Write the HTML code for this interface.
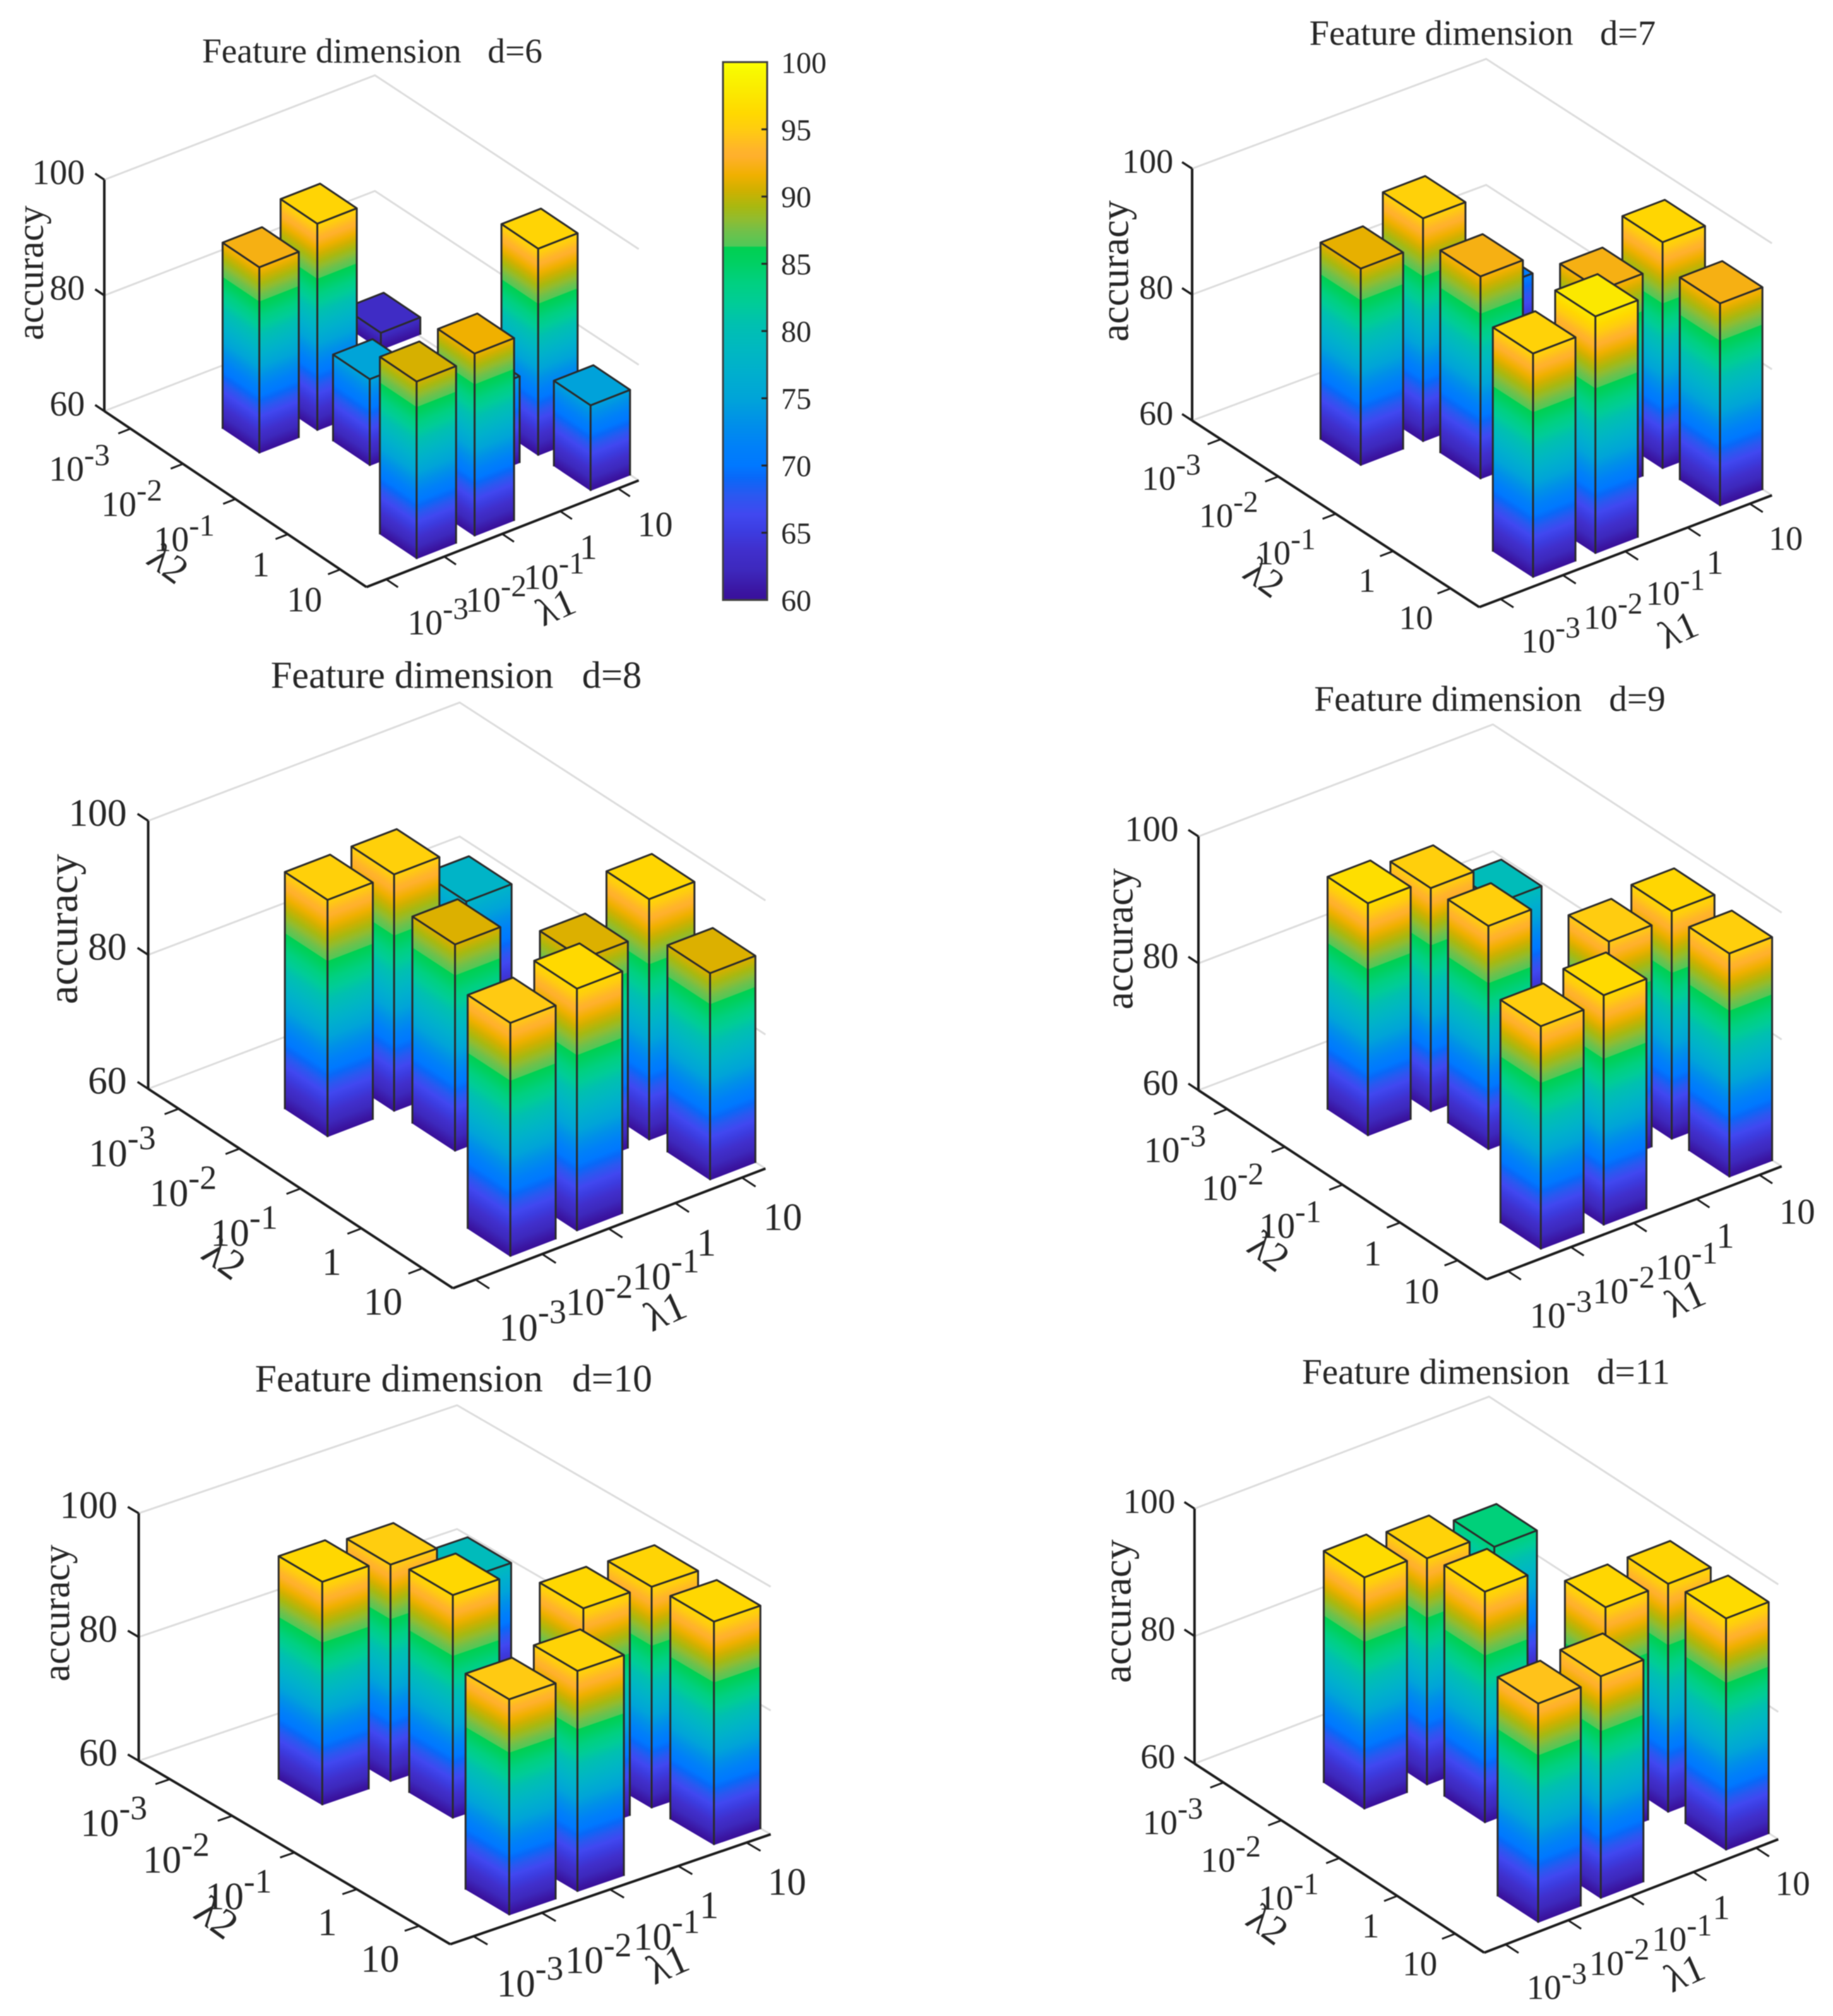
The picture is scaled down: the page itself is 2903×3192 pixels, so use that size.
<!DOCTYPE html>
<html lang="en">
<head>
<meta charset="utf-8">
<title>Accuracy versus lambda1 and lambda2 for feature dimensions 6 to 11</title>
<style>
  html, body { margin: 0; padding: 0; background: #fff; }
  #figure { display: block; width: 2903px; height: 3192px; filter: blur(0.9px); }
  text { font-family: "Liberation Serif", "Times New Roman", serif; fill: #262626; white-space: pre; }
</style>
</head>
<body>
<svg id="figure" width="2903" height="3192" viewBox="0 0 2903 3192">
  <rect x="0" y="0" width="2903" height="3192" fill="#ffffff"/>
  <defs id="gradient-defs"></defs>

  <g id="panel-d6">
    <text x="320" y="99" font-size="55.4">Feature dimension   d=6</text>
    <text text-anchor="middle" font-size="60" transform="translate(68 432) rotate(-90)">accuracy</text>
    <text text-anchor="middle" font-size="62" transform="translate(254 909) rotate(36)">λ2</text>
    <text text-anchor="middle" font-size="62" transform="translate(888 980) rotate(-24)">λ1</text>
  </g>
  <g id="panel-d7">
    <text x="2073.6" y="71" font-size="56.4">Feature dimension   d=7</text>
    <text text-anchor="middle" font-size="63" transform="translate(1786.7 429) rotate(-90)">accuracy</text>
    <text text-anchor="middle" font-size="62" transform="translate(1990 931) rotate(36)">λ2</text>
    <text text-anchor="middle" font-size="62" transform="translate(2666 1016) rotate(-24)">λ1</text>
  </g>
  <g id="panel-d8">
    <text x="428.7" y="1089" font-size="60.4">Feature dimension   d=8</text>
    <text text-anchor="middle" font-size="67" transform="translate(121.9 1471) rotate(-90)">accuracy</text>
    <text text-anchor="middle" font-size="66" transform="translate(342 2010) rotate(36)">λ2</text>
    <text text-anchor="middle" font-size="66" transform="translate(1062 2096) rotate(-24)">λ1</text>
  </g>
  <g id="panel-d9">
    <text x="2081.3" y="1125.5" font-size="57.2">Feature dimension   d=9</text>
    <text text-anchor="middle" font-size="63" transform="translate(1793.6 1486.5) rotate(-90)">accuracy</text>
    <text text-anchor="middle" font-size="63" transform="translate(1997 1998) rotate(36)">λ2</text>
    <text text-anchor="middle" font-size="63" transform="translate(2677 2075) rotate(-24)">λ1</text>
  </g>
  <g id="panel-d10">
    <text x="403.8" y="2203" font-size="61.5">Feature dimension   d=10</text>
    <text text-anchor="middle" font-size="61" transform="translate(109.5 2554) rotate(-90)">accuracy</text>
    <text text-anchor="middle" font-size="66" transform="translate(330 3054) rotate(36)">λ2</text>
    <text text-anchor="middle" font-size="66" transform="translate(1066 3130) rotate(-24)">λ1</text>
  </g>
  <g id="panel-d11">
    <text x="2062" y="2191" font-size="57.2">Feature dimension   d=11</text>
    <text text-anchor="middle" font-size="64" transform="translate(1790.5 2551) rotate(-90)">accuracy</text>
    <text text-anchor="middle" font-size="63" transform="translate(1995 3064) rotate(36)">λ2</text>
    <text text-anchor="middle" font-size="63" transform="translate(2676 3143) rotate(-24)">λ1</text>
  </g>
  <g id="colorbar"></g>
</svg>

<script>
// ---- chart data ----
const lambdaTickBases = ['10', '10', '10', '1', '10'];
const lambdaTickExponents = ['-3', '-2', '-1', '', ''];
const accuracyTicks = [60, 80, 100];
const colorbarTicks = [60, 65, 70, 75, 80, 85, 90, 95, 100];

// category index of each of the nine bars on the two lambda axes
const lambda2Index = [1, 1, 0, 2, 4, 4, 3, 3, 4];
const lambda1Index = [1, 2, 4, 2, 1, 2, 3, 4, 4];

// accuracy of each bar, per feature dimension
const accuracyD6 = [92.2, 95.8, 63.0, 75.0, 90.7, 91.6, 75.0, 95.8, 74.8];
const accuracyD7 = [91.3, 95.5, 70.7, 92.2, 95.6, 97.7, 92.2, 96.0, 92.2];
const accuracyD8 = [95.4, 95.4, 77.8, 90.9, 94.9, 96.2, 90.9, 96.0, 90.9];
const accuracyD9 = [96.7, 95.3, 79.5, 95.3, 95.2, 96.3, 95.0, 96.0, 95.3];
const accuracyD10 = [96.1, 95.1, 79.3, 96.1, 94.9, 95.7, 96.1, 95.8, 96.1];
const accuracyD11 = [96.4, 95.6, 83.9, 96.3, 94.4, 94.9, 96.0, 95.9, 96.4];

// colormap
const colormapValues = [60, 60.6, 62.2, 63.7, 65.1, 66.4, 67.8, 69.1, 70, 71.4, 73.2, 75, 77.1, 78.7, 80.5, 82, 83.6, 85.2, 86.25, 86.3, 87.4, 88.3, 89.25, 90.5, 91.6, 93, 93.5, 95, 96.15, 97.7, 99.3, 100];
const colormapColors = ['#38109a', '#3a14a0', '#3d28bc', '#402fcc', '#3c3ce0', '#4048f0', '#2a58f0', '#0868f8', '#0078ff', '#0080f8', '#0090e8', '#00a4d8', '#00b0cc', '#00b8c0', '#00c0b0', '#00cc98', '#00d080', '#00d060', '#00d050', '#50c858', '#70c04a', '#90bc30', '#a8b810', '#d0b000', '#f0b000', '#ffb02c', '#ffb42a', '#ffcc10', '#ffd800', '#fbe800', '#f8f800', '#ffff00'];

// ---- layout (not data) ----
const panelLayouts = [
  { id: 'panel-d6',  values: accuracyD6,  L: [165.2, 650.9],  F: [580.4, 929.5],   R: [1011.6, 760.7],  backTop: [593.8, 119.2],   H: 366.3, font: 52.6 },
  { id: 'panel-d7',  values: accuracyD7,  L: [1888, 665.9],   F: [2342.9, 961.3],  R: [2806.3, 784.2],  backTop: [2353.7, 93.3],   H: 398.9, font: 51 },
  { id: 'panel-d8',  values: accuracyD8,  L: [234.7, 1724],   F: [717.3, 2039.7],  R: [1212.3, 1850.2], backTop: [728, 1112.3],    H: 424.4, font: 58 },
  { id: 'panel-d9',  values: accuracyD9,  L: [1898, 1726.2],  F: [2354.4, 2025.6], R: [2821.7, 1846.8], backTop: [2364.4, 1147],   H: 401.8, font: 53.7 },
  { id: 'panel-d10', values: accuracyD10, L: [219.7, 2788],   F: [713.1, 3078.4],  R: [1220.6, 2904.3], backTop: [723.9, 2225],    H: 392,   font: 57.5 },
  { id: 'panel-d11', values: accuracyD11, L: [1891.8, 2792.4], F: [2350.6, 3091.7], R: [2816.3, 2912.3], backTop: [2358.3, 2211.3], H: 403.7, font: 52 }
];
const Z_MIN = 60, Z_MAX = 100;
const BAR_HALF_U = 0.07, BAR_HALF_V = 0.0725;
const AXIS_COLOR = '#1c1c1c', GRID_COLOR = '#dcdcdc', EDGE_COLOR = '#2a2a2a';

const SVG_NS = 'http://www.w3.org/2000/svg';
const defs = document.getElementById('gradient-defs');
let gradientCount = 0;

function make(tag, attrs, parent) {
  const el = document.createElementNS(SVG_NS, tag);
  for (const k in attrs) el.setAttribute(k, attrs[k]);
  parent.appendChild(el);
  return el;
}
function hexToRgb(h) {
  return [parseInt(h.slice(1, 3), 16), parseInt(h.slice(3, 5), 16), parseInt(h.slice(5, 7), 16)];
}
function colormap(z) {
  if (z <= colormapValues[0]) return colormapColors[0];
  for (let i = 1; i < colormapValues.length; i++) {
    if (z <= colormapValues[i]) {
      const t = (z - colormapValues[i - 1]) / (colormapValues[i] - colormapValues[i - 1]);
      const a = hexToRgb(colormapColors[i - 1]), b = hexToRgb(colormapColors[i]);
      return 'rgb(' + a.map((c, n) => Math.round(c + (b[n] - c) * t)).join(',') + ')';
    }
  }
  return colormapColors[colormapColors.length - 1];
}
function addStops(gradient) {
  colormapValues.forEach((v, i) => {
    make('stop', { offset: (v - Z_MIN) / (Z_MAX - Z_MIN), 'stop-color': colormapColors[i] }, gradient);
  });
}
function pts(list) {
  return list.map(p => p[0].toFixed(1) + ',' + p[1].toFixed(1)).join(' ');
}
function addLambdaLabel(parent, index, x, y, anchor, size) {
  const label = make('text', { x: x, y: y, 'text-anchor': anchor, 'font-size': size }, parent);
  
  
  label.appendChild(document.createTextNode(lambdaTickBases[index]));
  if (lambdaTickExponents[index]) {
    const sup = make('tspan', { 'font-size': size * 0.88, dy: -size * 0.44 }, label);
    sup.textContent = lambdaTickExponents[index];
  }
}

function drawPanel(p) {
  const group = document.getElementById(p.id);
  const LF = [p.F[0] - p.L[0], p.F[1] - p.L[1]];
  const FR = [p.R[0] - p.F[0], p.R[1] - p.F[1]];
  const scale = p.font / 53;
  const labelFont = p.font * 1.06;
  // axis functions
  const floorPoint = (u, v) => [p.L[0] + u * LF[0] + v * FR[0], p.L[1] + u * LF[1] + v * FR[1]];
  const zOffset = z => (z - Z_MIN) / (Z_MAX - Z_MIN) * p.H;
  const uCenter = i => 0.1 + 0.2 * i;
  const vCenter = j => 0.0725 + 0.213 * j;
  const backFloor = [p.backTop[0], p.backTop[1] + p.H];

  // wall grid lines
  accuracyTicks.forEach(z => {
    const d = zOffset(z);
    const line = make('polyline', {
      points: pts([[p.L[0], p.L[1] - d], [backFloor[0], backFloor[1] - d], [p.R[0], p.R[1] - d]]),
      fill: 'none', stroke: GRID_COLOR, 'stroke-width': 3
    }, group);
    
    
  });

  // axes
  const zAxis = make('line', { x1: p.L[0], y1: p.L[1], x2: p.L[0], y2: p.L[1] - p.H, stroke: AXIS_COLOR, 'stroke-width': 4 }, group);
  
  
  const l2Axis = make('line', { x1: p.L[0], y1: p.L[1], x2: p.F[0], y2: p.F[1], stroke: AXIS_COLOR, 'stroke-width': 4 }, group);
  
  
  const l1Axis = make('line', { x1: p.F[0], y1: p.F[1], x2: p.R[0], y2: p.R[1], stroke: AXIS_COLOR, 'stroke-width': 4 }, group);
  
  

  // z ticks
  accuracyTicks.forEach(z => {
    const y = p.L[1] - zOffset(z);
    const tick = make('line', { x1: p.L[0], y1: y, x2: p.L[0] - 0.035 * LF[0], y2: y - 0.035 * LF[1], stroke: AXIS_COLOR, 'stroke-width': 3.5 }, group);
    
    
    const label = make('text', { x: p.L[0] - 31 * scale, y: y + 7 * scale, 'text-anchor': 'end', 'font-size': labelFont }, group);
    
    
    label.textContent = z;
  });

  // lambda ticks
  lambdaTickBases.forEach((base, i) => {
    const a = floorPoint(uCenter(i), 0);
    const t2 = make('line', { x1: a[0], y1: a[1], x2: a[0] - 0.045 * FR[0], y2: a[1] - 0.045 * FR[1], stroke: AXIS_COLOR, 'stroke-width': 3 }, group);
    
    
    const hasExp = lambdaTickExponents[i] !== '';
    addLambdaLabel(group, i, a[0] - (hasExp ? 33 : 29) * scale, a[1] + (hasExp ? 83 : 67) * scale, 'end', labelFont);

    const b = floorPoint(1, vCenter(i));
    const t1 = make('line', { x1: b[0], y1: b[1], x2: b[0] + 0.045 * LF[0], y2: b[1] + 0.045 * LF[1], stroke: AXIS_COLOR, 'stroke-width': 3 }, group);
    
    
    addLambdaLabel(group, i, b[0] + (hasExp ? 34 : 31) * scale, b[1] + (hasExp ? 88 : 76) * scale, 'start', labelFont);
  });

  // bars, painted back to front
  const order = p.values.map((_, n) => n).sort((m, n) =>
    (uCenter(lambda2Index[m]) - vCenter(lambda1Index[m])) - (uCenter(lambda2Index[n]) - vCenter(lambda1Index[n])));
  order.forEach(n => {
    const uc = uCenter(lambda2Index[n]), vc = vCenter(lambda1Index[n]);
    const d = zOffset(p.values[n]);
    const up = q => [q[0], q[1] - d];
    const front = floorPoint(uc + BAR_HALF_U, vc - BAR_HALF_V);
    const left = floorPoint(uc - BAR_HALF_U, vc - BAR_HALF_V);
    const right = floorPoint(uc + BAR_HALF_U, vc + BAR_HALF_V);
    const back = floorPoint(uc - BAR_HALF_U, vc + BAR_HALF_V);

    const bar = make('g', {}, group);
    
    

    const faceFill = (edgeEnd) => {
      // z gradient whose iso-lines run parallel to the bottom edge of the face
      const ex = edgeEnd[0] - front[0], ey = edgeEnd[1] - front[1];
      const len = Math.hypot(ex, ey);
      const nx = -ey / len, ny = ex / len;
      const proj = -p.H * ny;
      const id = 'face-gradient-' + (gradientCount++);
      const gradient = make('linearGradient', {
        id: id, gradientUnits: 'userSpaceOnUse',
        x1: front[0], y1: front[1], x2: front[0] + nx * proj, y2: front[1] + ny * proj
      }, defs);
      addStops(gradient);
      return 'url(#' + id + ')';
    };

    const leftFace = make('polygon', { points: pts([left, front, up(front), up(left)]), fill: faceFill(left) }, bar);
    
    
    const rightFace = make('polygon', { points: pts([front, right, up(right), up(front)]), fill: faceFill(right) }, bar);
    
    
    const topFace = make('polygon', {
      points: pts([up(left), up(front), up(right), up(back)]),
      fill: colormap(p.values[n]), stroke: EDGE_COLOR, 'stroke-width': 3, 'stroke-linejoin': 'round'
    }, bar);
    
    
    [left, front, right].forEach(q => {
      const edge = make('line', { x1: q[0], y1: q[1], x2: q[0], y2: q[1] - d, stroke: EDGE_COLOR, 'stroke-width': 3 }, bar);
      
      
    });
  });
}

function drawColorbar() {
  const group = document.getElementById('colorbar');
  const x0 = 1145, x1 = 1215, yTop = 98.3, yBottom = 950;
  const valueToY = v => yBottom - (v - Z_MIN) / (Z_MAX - Z_MIN) * (yBottom - yTop);
  const gradient = make('linearGradient', { id: 'colorbar-gradient', gradientUnits: 'userSpaceOnUse', x1: 0, y1: yBottom, x2: 0, y2: yTop }, defs);
  addStops(gradient);
  const rect = make('rect', { x: x0, y: yTop, width: x1 - x0, height: yBottom - yTop, fill: 'url(#colorbar-gradient)', stroke: '#404040', 'stroke-width': 3 }, group);
  
  
  colorbarTicks.forEach(v => {
    const y = valueToY(v);
    if (v !== Z_MIN && v !== Z_MAX) {
      const tick = make('line', { x1: x1 - 9, y1: y, x2: x1, y2: y, stroke: '#262626', 'stroke-width': 3 }, group);
      
      
    }
    const label = make('text', { x: 1237, y: y + 17, 'font-size': 48 }, group);
    
    
    label.textContent = v;
  });
}

panelLayouts.forEach(drawPanel);
drawColorbar();
</script>
</body>
</html>
